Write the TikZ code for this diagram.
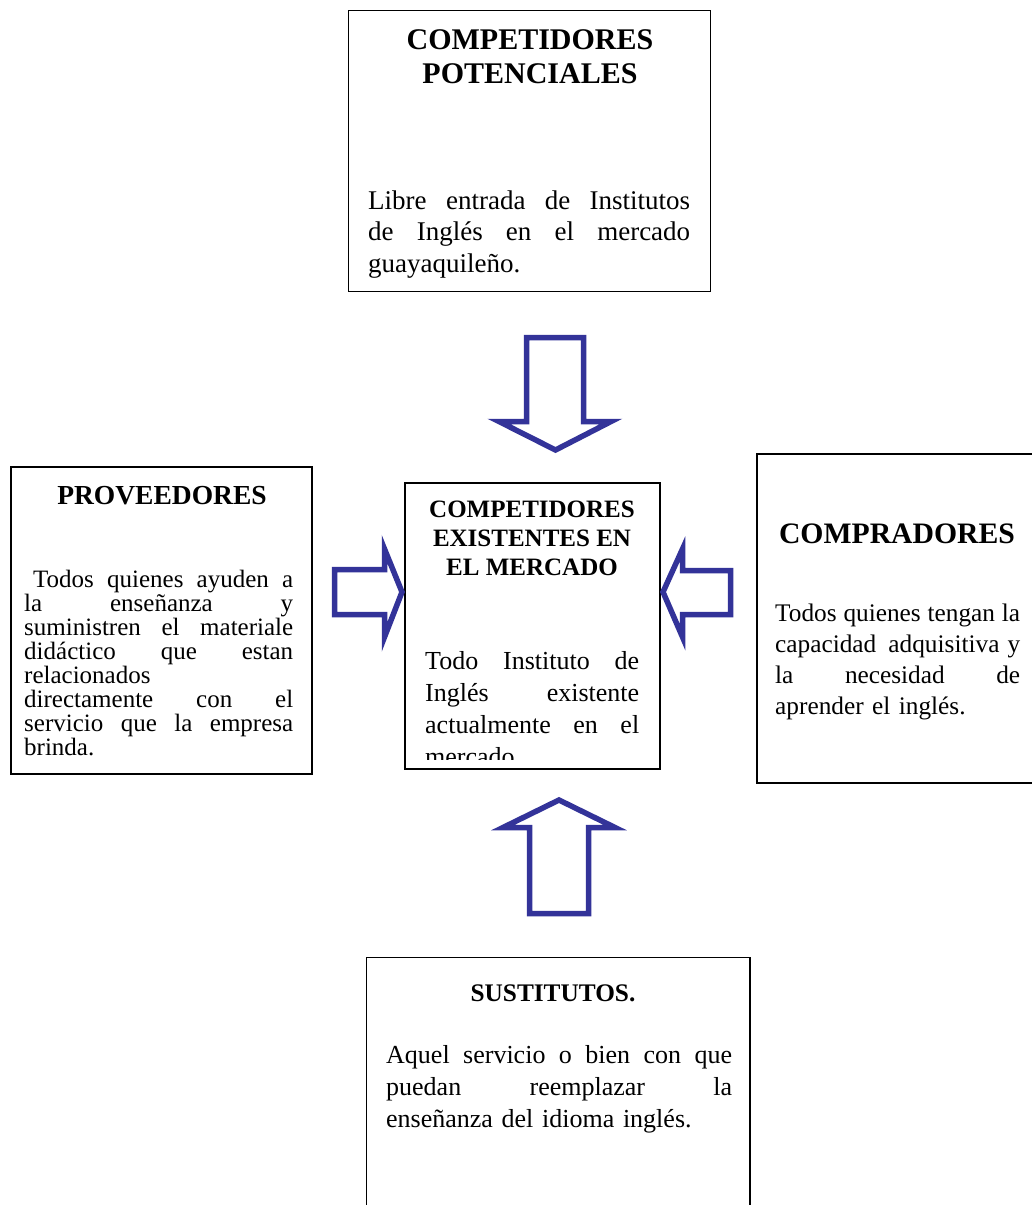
\documentclass[tikz,border=0pt]{standalone}
\usepackage{fontspec}
\setmainfont{Liberation Serif}
\definecolor{arrowblue}{HTML}{333399}
% font size / baseline skip in pt (1pt = one unit of the drawing)
\newcommand\setfs[2]{\fontsize{#1pt}{#2pt}\selectfont}
% a line of text whose word spaces stretch to a given width
\newcommand\jline[2]{\leavevmode\hbox to #1{\spaceskip=0.25em plus 1fil\relax #2}}

\tikzset{
  box/.style={draw=black, line width=1.8pt},
  blockarrow/.style={draw=arrowblue, line width=5.5pt, line join=miter, miter limit=10, fill=white},
  heading/.style={anchor=base, inner sep=0pt, align=center, font=\bfseries},
  bodytext/.style={anchor=base west, inner sep=0pt, align=left},
}

\begin{document}
\begin{tikzpicture}[x=1pt, y=-1pt]
\useasboundingbox (0,0) rectangle (1032,1205);
\clip (0,0) rectangle (1032,1205);
\fill[white] (0,0) rectangle (1032,1205);

% ---------- frames ----------
\draw[box] (348.5,10.5) rectangle (710.5,291.5);   % potential competitors
\draw[box] (11,467) rectangle (312,774);           % suppliers
\draw[box] (405,483) rectangle (660,769);          % existing competitors
\draw[box] (757,454) rectangle (1045,783);         % buyers
\draw[box] (366.5,957.5) rectangle (750,1220);     % substitutes

% ---------- potential competitors ----------
% (multi-line headings sit on the baseline of their last line)
\node[heading, font=\bfseries\setfs{30}{34}] (potT) at (530,83)
  {COMPETIDORES\\POTENCIALES};
\node[bodytext, text width=322pt, font=\setfs{27}{31.5}] (potB) at (368,209)
  {\jline{322pt}{Libre entrada de Institutos}\\
   \jline{322pt}{de Inglés en el mercado}\\
   guayaquileño.};

% ---------- existing competitors ----------
\node[heading, font=\bfseries\setfs{25}{29}] (exiT) at (532,575)
  {COMPETIDORES\\EXISTENTES EN\\EL MERCADO};
\begin{scope}
  \clip (406,484) rectangle (659,759);
  \node[bodytext, text width=214pt, font=\setfs{26}{32}] (exiB) at (425,669)
    {\jline{214pt}{Todo Instituto de}\\
     \jline{214pt}{Inglés existente}\\
     \jline{214pt}{actualmente en el}\\
     mercado.};
\end{scope}

% ---------- suppliers ----------
\node[heading, font=\bfseries\setfs{27.5}{30}] (proT) at (162,504) {PROVEEDORES};
\node[bodytext, text width=269pt, font=\setfs{25}{24}] (proB) at (24,587)
  {\jline{269pt}{\hspace*{9pt}Todos quienes ayuden a}\\
   \jline{269pt}{la enseñanza y}\\
   \jline{269pt}{suministren el materiale}\\
   \jline{269pt}{didáctico que estan}\\
   relacionados\\
   \jline{269pt}{directamente con el}\\
   \jline{269pt}{servicio que la empresa}\\
   brinda.};

% ---------- buyers ----------
\node[heading, font=\bfseries\setfs{29.7}{32}] (comT) at (897,543) {COMPRADORES};
\node[bodytext, text width=245pt, font=\setfs{25.3}{31}] (comB) at (775,621)
  {\jline{245pt}{Todos quienes tengan la}\\
   \jline{245pt}{capacidad\hspace{4pt} adquisitiva y}\\
   \jline{245pt}{la necesidad de}\\
   aprender el inglés.};

% ---------- substitutes ----------
\node[heading, font=\bfseries\setfs{25.3}{30}] (susT) at (553,1001) {SUSTITUTOS.};
\node[bodytext, text width=346pt, font=\setfs{26}{32}] (susB) at (386,1063)
  {\jline{346pt}{Aquel servicio o bien con que}\\
   \jline{346pt}{puedan reemplazar la}\\
   enseñanza del idioma inglés.};

% ---------- block arrows ----------
% from the top
\draw[blockarrow] (526.5,337.5) -- (583.5,337.5) -- (583.5,421.5) -- (611,421.5)
  -- (555.5,450) -- (499,421.5) -- (526.5,421.5) -- cycle;
% from the left
\draw[blockarrow] (334.5,569.5) -- (384.5,569.5) -- (384.5,549) -- (402,592)
  -- (384.5,637) -- (384.5,614.5) -- (334.5,614.5) -- cycle;
% from the right
\draw[blockarrow] (730.5,570.5) -- (682.5,570.5) -- (682.5,549) -- (663,592)
  -- (682.5,637) -- (682.5,614.5) -- (730.5,614.5) -- cycle;
% from below
\draw[blockarrow] (529.5,913.5) -- (529.5,827.5) -- (503,827.5) -- (559,800)
  -- (615,827.5) -- (588.5,827.5) -- (588.5,913.5) -- cycle;
\end{tikzpicture}
\end{document}
